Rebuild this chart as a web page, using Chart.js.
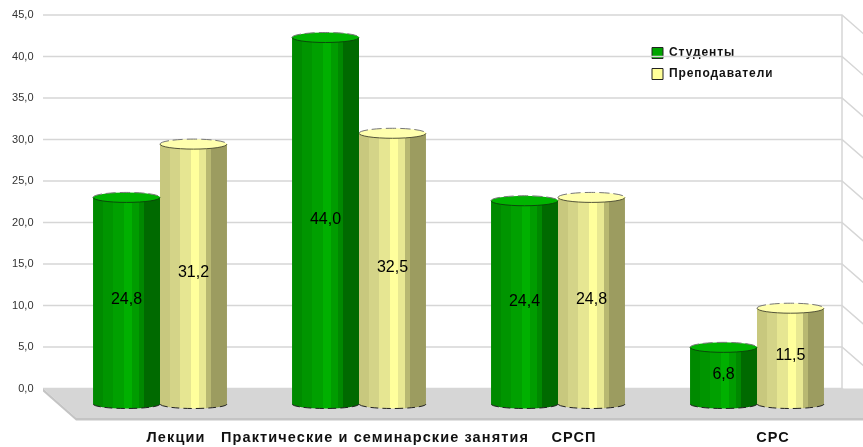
<!DOCTYPE html>
<html>
<head>
<meta charset="utf-8">
<style>
html, body { margin: 0; padding: 0; background: #fff; }
#wrap { width: 863px; height: 447px; position: relative; }
</style>
<script src="https://cdn.jsdelivr.net/npm/chart.js@4"></script>
</head>
<body>
<div id="wrap"><canvas id="myChart"></canvas></div>
<script>
const categories = ['Лекции', 'Практические и семинарские занятия', 'СРСП', 'СРС'];
const studenty = [24.8, 44.0, 24.4, 6.8];
const prepodavateli = [31.2, 32.5, 24.8, 11.5];
const yTicks = [0, 5, 10, 15, 20, 25, 30, 35, 40, 45];

const greenBands = ['#008a00', '#009500', '#00a000', '#00b000', '#009c00', '#008800', '#006a00'];
const yellowBands = ['#c8c87e', '#d4d488', '#e6e692', '#ffff9c', '#e8e892', '#b8b872', '#9c9c60'];
const bandStops = [0, 0.15, 0.30, 0.46, 0.58, 0.69, 0.76, 1];

function bandGradient(c, el, bands) {
    const left = el.x - el.width / 2;
    const g = c.createLinearGradient(left, 0, left + el.width, 0);
    bands.forEach((col, i) => {
        g.addColorStop(bandStops[i], col);
        g.addColorStop(bandStops[i + 1] - 0.001, col);
    });
    return g;
}

function withSpacing(c, px, fn) {
    c.letterSpacing = px;
    fn();
    c.letterSpacing = '0px';
}

// стена, пол и цилиндры
const cylinders = {
    id: 'cylinders',
    beforeDatasetsDraw(chart) {
        const c = chart.ctx;
        const y = chart.scales.y;
        const wallLeft = 43, wallRight = 842;
        const zero = y.getPixelForValue(0);

        c.save();
        yTicks.forEach(v => {
            const py = y.getPixelForValue(v);
            c.strokeStyle = '#d6d6d6';
            c.lineWidth = 1.5;
            c.beginPath();
            c.moveTo(wallLeft, py);
            c.lineTo(wallRight, py);
            c.lineTo(wallRight + 24, py + 21);
            c.stroke();
        });
        c.beginPath();
        c.moveTo(wallRight, y.getPixelForValue(45));
        c.lineTo(wallRight, zero);
        c.stroke();

        // пол
        c.fillStyle = '#d6d6d6';
        c.beginPath();
        c.moveTo(wallLeft, zero);
        c.lineTo(863, zero);
        c.lineTo(863, zero + 29);
        c.lineTo(76, zero + 29);
        c.closePath();
        c.fill();
        c.fillStyle = '#c4c4c4';
        c.beginPath();
        c.moveTo(wallLeft, zero);
        c.lineTo(76, zero + 29);
        c.lineTo(76, zero + 32);
        c.lineTo(wallLeft, zero + 3);
        c.closePath();
        c.fill();
        c.fillRect(76, zero + 29, 787, 3);
        c.restore();

        chart.data.datasets.forEach((ds, i) => {
            const bands = i === 0 ? greenBands : yellowBands;
            chart.getDatasetMeta(i).data.forEach(el => {
                el.options = Object.assign({}, el.options, { backgroundColor: bandGradient(c, el, bands) });
            });
        });
    },
    beforeDatasetDraw(chart, args) {
        const c = chart.ctx;
        const bands = args.index === 0 ? greenBands : yellowBands;
        c.save();
        args.meta.data.forEach(el => {
            c.beginPath();
            c.ellipse(el.x, el.base, el.width / 2, 4.5, 0, 0, Math.PI);
            c.fillStyle = bandGradient(c, el, bands);
            c.fill();
            c.setLineDash([8, 4]);
            c.strokeStyle = '#222';
            c.lineWidth = 1;
            c.stroke();
        });
        c.restore();
    },
    afterDatasetDraw(chart, args) {
        const c = chart.ctx;
        const top = args.index === 0 ? '#00b400' : '#ffffae';
        const rim = args.index === 0 ? '#0a4a0a' : '#55553a';
        c.save();
        args.meta.data.forEach((el, i) => {
            c.beginPath();
            c.ellipse(el.x, el.y, el.width / 2, 5, 0, 0, Math.PI * 2);
            c.fillStyle = top;
            c.fill();
            // передний край сплошной, задний пунктиром
            c.lineWidth = 1;
            c.strokeStyle = rim;
            c.beginPath();
            c.ellipse(el.x, el.y, el.width / 2, 5, 0, 0, Math.PI);
            c.stroke();
            c.setLineDash([10, 4]);
            c.strokeStyle = '#777';
            c.beginPath();
            c.ellipse(el.x, el.y, el.width / 2, 5, 0, Math.PI, Math.PI * 2);
            c.stroke();
            c.setLineDash([]);

            const val = chart.data.datasets[args.index].data[i];
            c.fillStyle = '#000';
            c.font = '16px "Liberation Sans"';
            c.textAlign = 'center';
            c.textBaseline = 'middle';
            c.fillText(val.toFixed(1).replace('.', ','), el.x, (el.y + el.base) / 2 - 1);
        });
        c.restore();
    }
};

// легенда лежит на стене, поэтому position chartArea и сдвиг вручную
const legendPlace = {
    id: 'legendPlace',
    beforeLayout(chart) {
        const lg = chart.legend;
        if (!lg._patched) {
            const draw = lg.draw;
            lg.draw = function () {
                withSpacing(this.ctx, '0.9px', () => draw.call(this));
            };
            const xs = chart.scales.x;
            const labels = xs.drawLabels;
            xs.drawLabels = function (area) {
                withSpacing(this.ctx, '1.1px', () => labels.call(this, area));
            };
            lg._patched = true;
        }
    },
    afterLayout(chart) {
        const lg = chart.legend;
        lg.left = 643;
        lg.top = 38;
        lg.right = lg.left + lg.width;
        lg.bottom = lg.top + lg.height;
    }
};

const chart = new Chart(document.getElementById('myChart'), {
    type: 'bar',
    data: {
        labels: categories,
        datasets: [
            { label: 'Студенты', data: studenty, backgroundColor: '#00a400', borderWidth: 0, yAxisID: 'y1', order: 1 },
            { label: 'Преподаватели', data: prepodavateli, backgroundColor: '#ffff99', borderWidth: 0, yAxisID: 'y1', order: 2 }
        ]
    },
    options: {
        responsive: true,
        maintainAspectRatio: false,
        animation: false,
        layout: { padding: { top: 15, right: 6.5, left: 0, bottom: 0 } },
        barPercentage: 1,
        categoryPercentage: 0.673,
        plugins: {
            tooltip: { enabled: false },
            legend: {
                position: 'chartArea',
                align: 'start',
                labels: {
                    boxWidth: 11,
                    boxHeight: 11,
                    padding: 9,
                    color: '#111',
                    font: { family: '"Liberation Sans"', size: 12, weight: 'bold' },
                    generateLabels(c) {
                        return Chart.defaults.plugins.legend.labels.generateLabels(c).map(it => {
                            it.strokeStyle = '#222';
                            it.lineWidth = 1;
                            return it;
                        });
                    }
                }
            }
        },
        scales: {
            x: {
                grid: { display: false, drawTicks: false },
                border: { display: false },
                afterFit(s) { s.height = 43; },
                ticks: {
                    autoSkip: false,
                    maxRotation: 0,
                    padding: 25,
                    labelOffset: 16,
                    color: '#111',
                    font: { family: '"Liberation Sans"', size: 14.5, weight: 'bold' }
                }
            },
            y: {
                position: 'left',
                min: -1.87,
                max: 45,
                grid: { display: false, drawTicks: false },
                border: { display: false },
                afterFit(s) {
                    s.width = 60.5;
                    s.paddingTop = 0;
                    s.paddingBottom = 0;
                },
                afterBuildTicks(s) { s.ticks = yTicks.map(v => ({ value: v })); },
                ticks: {
                    padding: 27,
                    color: '#333',
                    font: { family: '"Liberation Sans"', size: 11 },
                    callback: v => v.toFixed(1).replace('.', ',')
                }
            },
            y1: {
                display: false,
                min: 0,
                max: 46.7
            }
        }
    },
    plugins: [cylinders, legendPlace]
});
</script>
</body>
</html>
